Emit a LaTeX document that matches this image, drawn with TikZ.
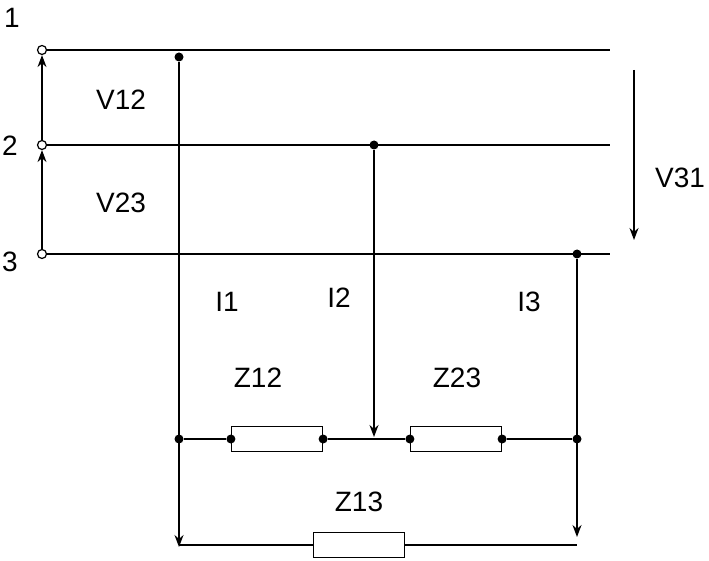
\documentclass[tikz,border=0pt]{standalone}
\usepackage{fontspec}
\setmainfont{Liberation Sans}
\usetikzlibrary{calc,positioning,arrows.meta}
\begin{document}
\begin{tikzpicture}[x=1pt,y=-1pt,line width=1.5pt,
	term/.style={circle,draw,fill=white,inner sep=0pt,minimum size=9pt,line width=1.2pt},
	dot/.style={circle,fill,inner sep=0pt,minimum size=9pt},
	res/.style={draw,fill=white,minimum width=91pt,minimum height=25pt,inner sep=0pt,line width=1.2pt},
	lbl/.style={font=\fontsize{28}{30}\selectfont},
	arr/.style={-{Stealth[length=12pt,width=9pt]}}]
	\useasboundingbox (0,0) rectangle (709,561);
	% terminals and lines
	\node(t1) [term] at (42,50) {};
	\node(t2) [term] at (42,145) {};
	\node(t3) [term] at (42,254) {};
	\node[lbl] at (12,18) {1};
	\node[lbl] at (10,146) {2};
	\node[lbl] at (10,262) {3};
	\coordinate(e1) at (610,50);
	\coordinate(e2) at (610,145);
	\coordinate(e3) at (610,254);
	\draw (t1) -- (e1);
	\draw (t2) -- (e2);
	\draw (t3) -- (e3);
	% voltages
	\draw[arr] (t2) -- (t1);
	\draw[arr] (t3) -- (t2);
	\node[lbl] at (121,100) {V12};
	\node[lbl] at (121,203) {V23};
	\coordinate(v31a) at (634,70);
	\coordinate(v31b) at (634,240);
	\draw[arr] (v31a) -- (v31b);
	\node[lbl] at (680,178) {V31};
	% taps
	\node(d1) [dot] at (179,57) {};
	\node(d2) [dot] at (374,145) {};
	\node(d3) [dot] at (577,254) {};
	% middle branch
	\node(z12) [res] at (277,439) {};
	\node(z23) [res] at (456,439) {};
	\node(m1) [dot] at (179,439) {};
	\node(m3) [dot] at (577,439) {};
	\node(a1) [dot] at (z12.west) {};
	\node(a2) [dot] at (z12.east) {};
	\node(b1) [dot] at (z23.west) {};
	\node(b2) [dot] at (z23.east) {};
	\draw (m1) -- (a1);
	\draw (a2) -- (b1);
	\draw (b2) -- (m3);
	\coordinate(p2) at (374,437);
	\draw[arr] (d2) -- (p2);
	% bottom branch
	\node(z13) [res] at (359,545) {};
	\coordinate(c1) at (179,547);
	\coordinate(c3) at (577,537);
	\draw[arr] (d1) -- (c1);
	\draw (179,545) -- (z13.west);
	\draw (z13.east) -- (577,545);
	\draw[arr] (d3) -- (c3);
	% labels
	\node[lbl] at (227,302) {I1};
	\node[lbl] at (339,298) {I2};
	\node[lbl] at (529,302) {I3};
	\node[lbl] at (258,378) {Z12};
	\node[lbl] at (457,378) {Z23};
	\node[lbl] at (359,502) {Z13};
\end{tikzpicture}
\end{document}
